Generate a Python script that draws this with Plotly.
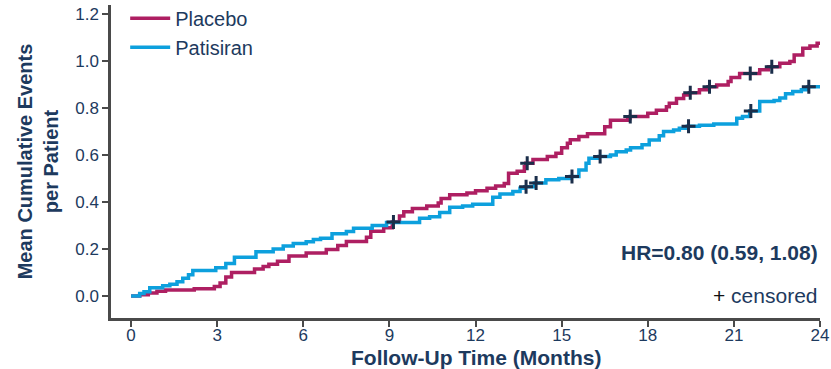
import plotly.graph_objects as go

# Mean cumulative events per patient (step functions), months of follow-up
placebo_t = [0, 0.3, 0.6, 0.9, 1.2, 2.2, 2.9, 3.1, 3.3, 3.5, 4.3, 4.6, 4.8, 5.1, 5.5,
             6.1, 6.8, 7.2, 7.5, 8.2, 8.35, 8.8, 9.1, 9.35, 9.5, 9.8, 10.3, 10.7, 10.8,
             11.1, 11.7, 12.0, 12.4, 12.7, 13.0, 13.15, 13.45, 13.7, 13.75, 14.0, 14.5,
             14.8, 15.0, 15.2, 15.3, 15.6, 15.9, 16.5, 16.7, 17.3, 17.38, 18.0, 18.3,
             18.65, 18.75, 19.0, 19.25, 19.45, 19.8, 20.1, 20.4, 20.8, 20.9, 21.2, 21.9,
             22.2, 22.6, 22.95, 23.1, 23.4, 23.65, 23.9, 24.0]
placebo_v = [0.0, 0.005, 0.012, 0.02, 0.025, 0.03, 0.04, 0.055, 0.08, 0.1, 0.115, 0.125,
             0.135, 0.148, 0.17, 0.183, 0.198, 0.215, 0.232, 0.25, 0.275, 0.29, 0.315,
             0.34, 0.358, 0.372, 0.383, 0.395, 0.415, 0.43, 0.438, 0.448, 0.458, 0.468,
             0.478, 0.522, 0.53, 0.55, 0.565, 0.58, 0.593, 0.607, 0.63, 0.65, 0.665,
             0.678, 0.69, 0.72, 0.748, 0.755, 0.763, 0.777, 0.79, 0.805, 0.82, 0.84,
             0.855, 0.865, 0.877, 0.89, 0.898, 0.912, 0.93, 0.947, 0.962, 0.975, 0.99,
             0.998, 1.025, 1.054, 1.064, 1.075, 1.075]

patisiran_t = [0, 0.3, 0.45, 0.65, 1.1, 1.35, 1.6, 1.8, 2.0, 2.15, 2.95, 3.3, 3.6, 4.35,
               4.95, 5.3, 5.65, 6.1, 6.35, 6.6, 7.0, 7.5, 7.75, 8.4, 8.9, 10.05, 10.4,
               10.75, 11.1, 11.55, 11.9, 12.6, 12.85, 13.3, 13.55, 13.72, 14.05, 14.45,
               14.9, 15.3, 15.6, 15.85, 15.95, 16.3, 16.7, 16.9, 17.25, 17.4, 17.8, 18.05,
               18.4, 18.55, 18.9, 19.1, 19.38, 19.8, 20.3, 21.1, 21.3, 21.55, 21.9, 22.4,
               22.6, 22.8, 23.05, 23.35, 23.58, 24.0]
patisiran_v = [0.0, 0.01, 0.018, 0.035, 0.043, 0.05, 0.06, 0.075, 0.09, 0.108, 0.12,
               0.138, 0.165, 0.188, 0.2, 0.212, 0.223, 0.23, 0.24, 0.245, 0.265, 0.274,
               0.288, 0.3, 0.312, 0.33, 0.337, 0.355, 0.377, 0.383, 0.39, 0.42, 0.434,
               0.444, 0.458, 0.465, 0.48, 0.494, 0.5, 0.508, 0.536, 0.565, 0.586, 0.593,
               0.6, 0.614, 0.621, 0.631, 0.643, 0.664, 0.682, 0.7, 0.706, 0.713, 0.722,
               0.726, 0.732, 0.756, 0.763, 0.787, 0.827, 0.832, 0.842, 0.86, 0.87, 0.877,
               0.89, 0.894]

# Censoring times
placebo_censor = [9.14, 13.8, 17.39, 19.48, 20.15, 21.57, 22.32]
patisiran_censor = [13.76, 14.11, 15.36, 16.34, 19.42, 21.59, 23.61]

x_ticks = [0, 3, 6, 9, 12, 15, 18, 21, 24]
y_ticks = [0.0, 0.2, 0.4, 0.6, 0.8, 1.0, 1.2]
hr_text = "HR=0.80 (0.59, 1.08)"
x_title = "Follow-Up Time (Months)"
y_title = "Mean Cumulative Events<br>per Patient"

PLACEBO = "#AE1F62"
PATISIRAN = "#0DA0DD"
NAVY = "#1D3A5E"
MARK = "#1B2E4A"
AXIS = "#4A4A4A"
FONT = "Liberation Sans, Arial, sans-serif"


def step_value(times, values, t):
    v = values[0]
    for ti, vi in zip(times, values):
        if ti <= t:
            v = vi
        else:
            break
    return v


fig = go.Figure()
fig.add_trace(go.Scatter(x=placebo_t, y=placebo_v, mode="lines", name="Placebo",
                         line=dict(color=PLACEBO, width=3.5, shape="hv")))
fig.add_trace(go.Scatter(x=patisiran_t, y=patisiran_v, mode="lines", name="Patisiran",
                         line=dict(color=PATISIRAN, width=3.5, shape="hv")))

for times, values, cens in [(placebo_t, placebo_v, placebo_censor),
                            (patisiran_t, patisiran_v, patisiran_censor)]:
    fig.add_trace(go.Scatter(
        x=cens, y=[step_value(times, values, c) for c in cens], mode="markers",
        showlegend=False, hoverinfo="skip",
        marker=dict(symbol="cross-thin", size=10, line=dict(color=MARK, width=3))))

fig.add_annotation(x=24, y=0.183, xref="x", yref="y", text="<b>" + hr_text + "</b>",
                   showarrow=False, xanchor="right", yanchor="middle",
                   font=dict(family=FONT, size=21, color=NAVY))
fig.add_annotation(x=24, y=0.0, xref="x", yref="y",
                   text="<span style='color:#111111'>+</span> censored",
                   showarrow=False, xanchor="right", yanchor="middle",
                   font=dict(family=FONT, size=21, color=NAVY))
# x-axis title, centred under the 0-24 month span
fig.add_annotation(x=12, y=0, xref="x", yref="paper", yshift=-39,
                   text="<b>" + x_title + "</b>", showarrow=False,
                   xanchor="center", yanchor="middle",
                   font=dict(family=FONT, size=21, color=NAVY))

fig.update_layout(
    width=831, height=369,
    margin=dict(l=111, r=11, t=5, b=51, autoexpand=False),
    paper_bgcolor="white", plot_bgcolor="white",
    font=dict(family=FONT, color=NAVY),
    showlegend=True,
    legend=dict(x=0.02, y=1.02, xanchor="left", yanchor="top", bgcolor="rgba(0,0,0,0)",
                font=dict(family=FONT, size=20, color=NAVY), itemwidth=40,
                tracegroupgap=0),
    # labels sit right under the axis; the tick marks come from the minor ticks
    xaxis=dict(range=[-0.7, 24], tickvals=x_ticks, ticktext=[str(v) for v in x_ticks],
               showgrid=False, zeroline=False, showline=True, linecolor=AXIS, linewidth=2.5,
               ticks="",
               minor=dict(ticks="outside", tick0=0, dtick=3, ticklen=6, tickwidth=2,
                          tickcolor=AXIS, showgrid=False),
               tickfont=dict(family=FONT, size=17, color=NAVY)),
    yaxis=dict(range=[-0.094, 1.238], tickvals=y_ticks,
               ticktext=[f"{v:.1f}" for v in y_ticks],
               showgrid=False, zeroline=False, showline=True, linecolor=AXIS, linewidth=2.5,
               ticks="outside", ticklen=6, tickwidth=2, tickcolor=AXIS,
               tickfont=dict(family=FONT, size=17, color=NAVY),
               title=dict(text="<b>" + y_title + "</b>", standoff=12,
                          font=dict(family=FONT, size=20, color=NAVY))),
)

fig.write_html("out.html")
